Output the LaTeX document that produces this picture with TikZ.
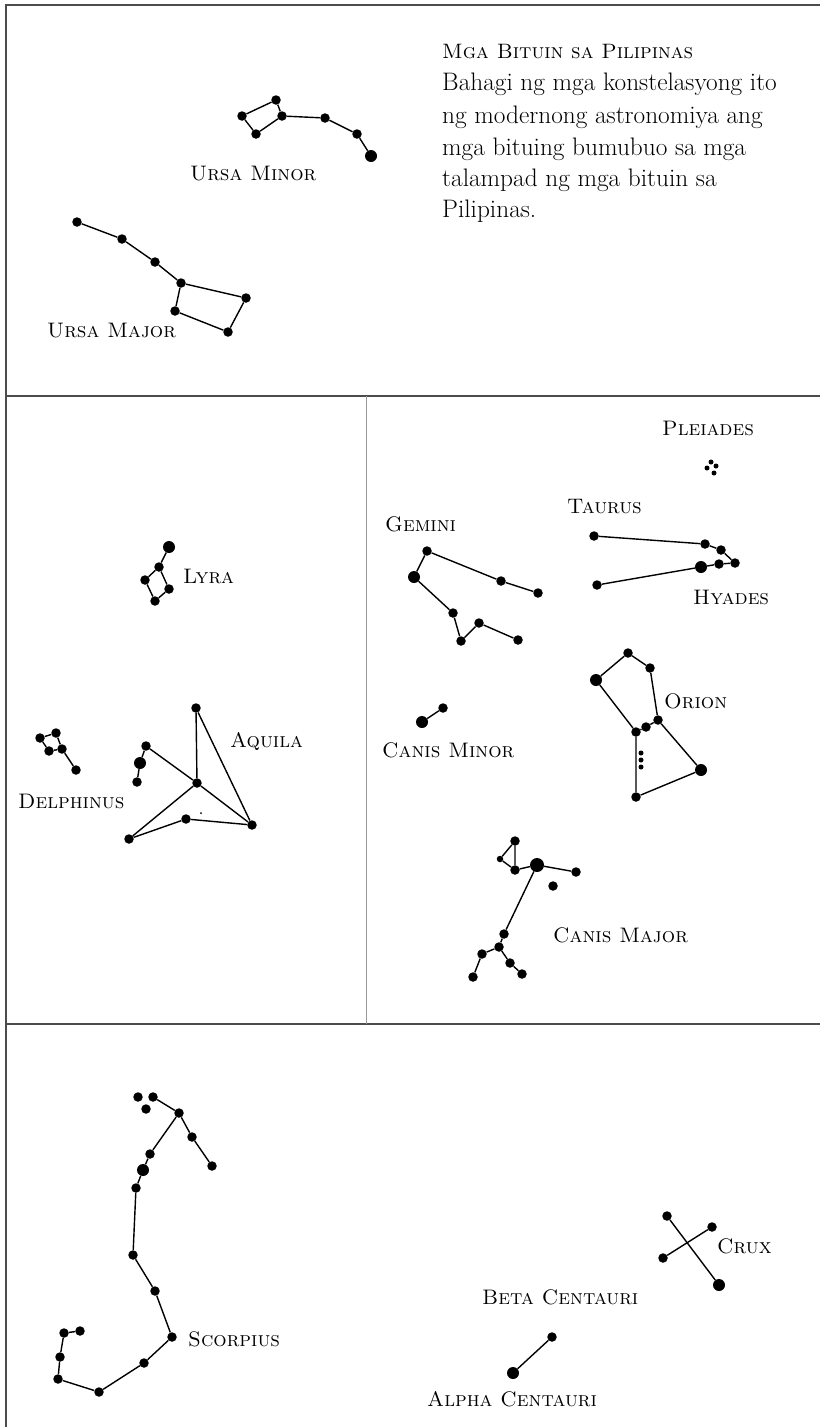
\documentclass[tikz,border=0pt]{standalone}
\usepackage{graphicx}
\begin{document}
\begin{tikzpicture}[x=1pt,y=-1pt,
  sdot/.style={circle,fill=black,inner sep=0pt,minimum size=9.5pt},
  bdot/.style={circle,fill=black,inner sep=0pt,minimum size=12pt},
  hdot/.style={circle,fill=black,inner sep=0pt,minimum size=14pt},
  tdot/.style={circle,fill=black,inner sep=0pt,minimum size=5pt},
  speck/.style={circle,fill=black,inner sep=0pt,minimum size=2pt},
  link/.style={line width=1.4pt,black},
  lbl/.style={anchor=base west,inner sep=0pt,font=\fontsize{21}{24}\selectfont\scshape},
  body/.style={anchor=base west,inner sep=0pt,font=\fontsize{25.3}{28}\selectfont},
  title/.style={anchor=base west,inner sep=0pt,font=\fontsize{21}{24}\selectfont\scshape},
  frame/.style={line width=1.1pt,black!70},
  divider/.style={line width=0.6pt,black!40}]
\useasboundingbox (0,0) rectangle (820,1427);

% panel frame
\draw[frame] (820,5) -- (6,5) -- (6,1427);
\draw[frame] (6,396) -- (820,396);
\draw[frame] (6,1024) -- (820,1024);
\draw[divider] (366,396) -- (366,1024);

% heading and caption
\node[title] (h0) at (442,58) {\resizebox{251pt}{!}{Mga Bituin sa Pilipinas}};
\node[body] (h1) at (442,90) {Bahagi ng mga konstelasyong ito};
\node[body] (h2) at (442,123) {ng modernong astronomiya ang};
\node[body] (h3) at (442,155) {mga bituing bumubuo sa mga};
\node[body] (h4) at (442,186) {talampad ng mga bituin sa};
\node[body] (h5) at (442,217) {Pilipinas.};

% Ursa Minor
\node[sdot] (um1) at (242,116) {};
\node[sdot] (um2) at (276,100) {};
\node[sdot] (um3) at (282,116) {};
\node[sdot] (um4) at (256,134) {};
\node[sdot] (um5) at (325,118) {};
\node[sdot] (um6) at (357,134) {};
\node[bdot] (um7) at (371,156) {};
\draw[link] (um1) -- (um2) -- (um3) -- (um4) -- (um1);
\draw[link] (um3) -- (um5) -- (um6) -- (um7);
\node[lbl] (umL) at (190,180) {Ursa Minor};

% Ursa Major
\node[sdot] (uM1) at (77,222) {};
\node[sdot] (uM2) at (122,239) {};
\node[sdot] (uM3) at (155,262) {};
\node[sdot] (uM4) at (181,283) {};
\node[sdot] (uM5) at (246,298) {};
\node[sdot] (uM6) at (228,332) {};
\node[sdot] (uM7) at (175,311) {};
\draw[link] (uM1) -- (uM2) -- (uM3) -- (uM4) -- (uM5) -- (uM6) -- (uM7) -- (uM4);
\node[lbl] (uML) at (47,337) {Ursa Major};

% Lyra
\node[bdot] (ly1) at (169,547) {};
\node[sdot] (ly2) at (159,567) {};
\node[sdot] (ly3) at (145,580) {};
\node[sdot] (ly4) at (169,589) {};
\node[sdot] (ly5) at (155,601) {};
\draw[link] (ly1) -- (ly2) -- (ly3) -- (ly5) -- (ly4) -- (ly2);
\node[lbl] (lyL) at (183,583) {Lyra};

% Delphinus
\node[sdot] (de1) at (40,738) {};
\node[sdot] (de2) at (56,733) {};
\node[sdot] (de3) at (49,751) {};
\node[sdot] (de4) at (62,749) {};
\node[sdot] (de5) at (76,770) {};
\draw[link] (de1) -- (de2) -- (de4) -- (de3) -- (de1);
\draw[link] (de4) -- (de5);
\node[lbl] (deL) at (18,808) {Delphinus};

% Aquila
\node[sdot] (aq1) at (196,708) {};
\node[sdot] (aq2) at (146,746) {};
\node[bdot] (aq3) at (140,763) {};
\node[sdot] (aq4) at (137,782) {};
\node[sdot] (aq5) at (197,783) {};
\node[sdot] (aq6) at (186,819) {};
\node[sdot] (aq7) at (252,825) {};
\node[sdot] (aq8) at (129,839) {};
\node[speck] (aq9) at (201,813) {};
\draw[link] (aq1) -- (aq5) -- (aq7) -- (aq1);
\draw[link] (aq2) -- (aq5) -- (aq8) -- (aq6) -- (aq7);
\draw[link] (aq2) -- (aq3) -- (aq4);
\node[lbl] (aqL) at (230,747) {Aquila};

% Pleiades
\node[tdot] (pl1) at (711,462) {};
\node[tdot] (pl2) at (716,466) {};
\node[tdot] (pl3) at (707,468) {};
\node[tdot] (pl4) at (714,473) {};
\node[lbl] (plL) at (662,435) {Pleiades};

% Taurus and the Hyades
\node[sdot] (ta1) at (594,536) {};
\node[sdot] (ta2) at (705,544) {};
\node[sdot] (ta3) at (721,550) {};
\node[sdot] (ta4) at (735,563) {};
\node[sdot] (ta5) at (719,564) {};
\node[bdot] (ta6) at (701,567) {};
\node[sdot] (ta7) at (597,585) {};
\draw[link] (ta1) -- (ta2) -- (ta3) -- (ta4) -- (ta5) -- (ta6) -- (ta7);
\node[lbl] (taL) at (567,513) {Taurus};
\node[lbl] (hyL) at (693,604) {Hyades};

% Gemini
\node[sdot] (ge1) at (427,551) {};
\node[bdot] (ge2) at (414,577) {};
\node[sdot] (ge3) at (501,581) {};
\node[sdot] (ge4) at (538,593) {};
\node[sdot] (ge5) at (453,613) {};
\node[sdot] (ge6) at (461,641) {};
\node[sdot] (ge7) at (479,623) {};
\node[sdot] (ge8) at (518,640) {};
\draw[link] (ge4) -- (ge3) -- (ge1) -- (ge2) -- (ge5) -- (ge6) -- (ge7) -- (ge8);
\node[lbl] (geL) at (385,531) {Gemini};

% Canis Minor
\node[sdot] (cn1) at (443,708) {};
\node[bdot] (cn2) at (422,722) {};
\draw[link] (cn1) -- (cn2);
\node[lbl] (cnL) at (382,757) {Canis Minor};

% Orion
\node[sdot] (or1) at (628,653) {};
\node[sdot] (or2) at (650,668) {};
\node[bdot] (or3) at (596,680) {};
\node[sdot] (or4) at (658,720) {};
\node[sdot] (or5) at (646,727) {};
\node[sdot] (or6) at (636,732) {};
\node[bdot] (or7) at (701,770) {};
\node[sdot] (or8) at (636,797) {};
\node[tdot] (os1) at (641,753) {};
\node[tdot] (os2) at (641,760) {};
\node[tdot] (os3) at (641,767) {};
\draw[link] (or3) -- (or1) -- (or2) -- (or4) -- (or5) -- (or6) -- (or3);
\draw[link] (or4) -- (or7) -- (or8) -- (or6);
\node[lbl] (orL) at (664,708) {Orion};

% Canis Major
\node[sdot] (cj1) at (515,841) {};
\node[tdot,minimum size=6.5pt] (cj2) at (500,859) {};
\node[sdot] (cj3) at (515,870) {};
\node[hdot] (cj4) at (537,865) {};
\node[sdot] (cj5) at (576,872) {};
\node[sdot] (cj6) at (553,886) {};
\node[sdot] (cj7) at (504,934) {};
\node[sdot] (cj8) at (499,947) {};
\node[sdot] (cj9) at (482,954) {};
\node[sdot] (cj10) at (510,963) {};
\node[sdot] (cj11) at (522,974) {};
\node[sdot] (cj12) at (473,977) {};
\draw[link] (cj2) -- (cj1) -- (cj3) -- (cj2);
\draw[link] (cj3) -- (cj4) -- (cj5);
\draw[link] (cj4) -- (cj7) -- (cj8) -- (cj9) -- (cj12);
\draw[link] (cj8) -- (cj10) -- (cj11);
\node[lbl] (cjL) at (553,942) {Canis Major};

% Scorpius
\node[sdot] (sc1) at (138,1097) {};
\node[sdot] (sc2) at (153,1097) {};
\node[sdot] (sc3) at (146,1109) {};
\node[sdot] (sc4) at (179,1113) {};
\node[sdot] (sc5) at (192,1137) {};
\node[sdot] (sc6) at (212,1166) {};
\node[sdot] (sc7) at (150,1154) {};
\node[bdot] (sc8) at (143,1170) {};
\node[sdot] (sc9) at (136,1188) {};
\node[sdot] (sc10) at (133,1255) {};
\node[sdot] (sc11) at (155,1291) {};
\node[sdot] (sc12) at (172,1337) {};
\node[sdot] (sc13) at (144,1363) {};
\node[sdot] (sc14) at (99,1392) {};
\node[sdot] (sc15) at (58,1379) {};
\node[sdot] (sc16) at (60,1357) {};
\node[sdot] (sc17) at (64,1333) {};
\node[sdot] (sc18) at (80,1331) {};
\draw[link] (sc2) -- (sc4) -- (sc5) -- (sc6);
\draw[link] (sc4) -- (sc7) -- (sc8) -- (sc9) -- (sc10) -- (sc11) -- (sc12) -- (sc13)
  -- (sc14) -- (sc15) -- (sc16) -- (sc17) -- (sc18);
\node[lbl] (scL) at (188,1346) {Scorpius};

% Crux
\node[sdot] (cr1) at (667,1216) {};
\node[bdot] (cr2) at (719,1285) {};
\node[sdot] (cr3) at (712,1227) {};
\node[sdot] (cr4) at (663,1258) {};
\draw[link] (cr1) -- (cr2);
\draw[link] (cr3) -- (cr4);
\node[lbl] (crL) at (717,1253) {Crux};

% Alpha and Beta Centauri
\node[sdot] (ce1) at (552,1337) {};
\node[bdot] (ce2) at (513,1373) {};
\draw[link] (ce1) -- (ce2);
\node[lbl] (ceB) at (482,1304) {Beta Centauri};
\node[lbl] (ceA) at (427,1406) {Alpha Centauri};
\end{tikzpicture}
\end{document}
